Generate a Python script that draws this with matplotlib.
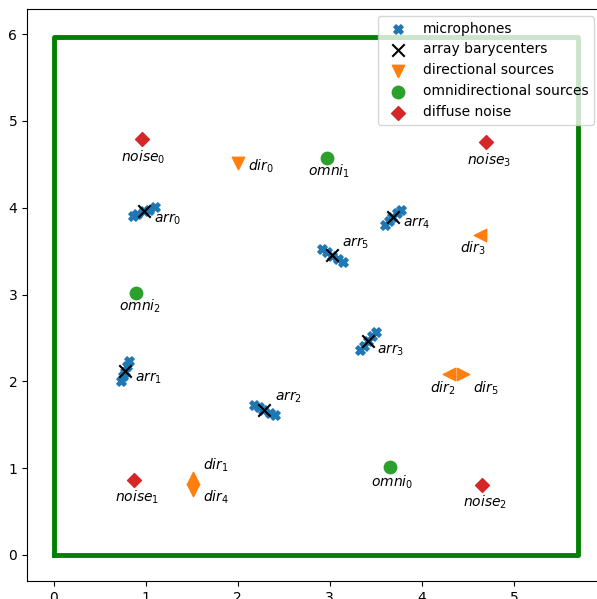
import matplotlib
matplotlib.use("Agg")
import matplotlib.pyplot as plt
import numpy as np

# Room outline (width x height, metres)
room_w, room_h = 5.7, 5.97

# Microphone positions of each linear array
mics = [
    [(0.86, 3.91), (0.91, 3.93), (0.98, 3.96), (1.04, 3.98), (1.10, 4.01)],
    [(0.735, 2.00), (0.755, 2.06), (0.775, 2.11), (0.80, 2.18), (0.82, 2.24)],
    [(2.18, 1.73), (2.23, 1.70), (2.28, 1.67), (2.35, 1.64), (2.41, 1.61)],
    [(3.33, 2.36), (3.37, 2.41), (3.42, 2.47), (3.46, 2.52), (3.50, 2.57)],
    [(3.60, 3.80), (3.64, 3.85), (3.68, 3.89), (3.73, 3.94), (3.77, 3.98)],
    [(2.92, 3.53), (2.97, 3.49), (3.03, 3.45), (3.09, 3.41), (3.14, 3.38)],
]

# Directional sources: position and marker showing orientation
dir_x = [2.00, 1.518, 4.30, 4.63, 1.518, 4.445]
dir_y = [4.52, 0.887, 2.085, 3.687, 0.749, 2.085]
dir_marker = ["v", "^", "<", "<", "v", ">"]

# Omnidirectional sources
omni_x = [3.65, 2.966, 0.898]
omni_y = [1.01, 4.57, 3.02]

# Diffuse noise sources
noise_x = [0.963, 0.876, 4.65, 4.70]
noise_y = [4.79, 0.864, 0.806, 4.76]

# label offsets in pixels (dx, dy) relative to the mark
arr_off = [(10, -7.5), (10, -7.5), (11, 13), (8.5, -9), (10, -6), (10, 12)]
dir_off = [(10, -4, "left"), (10, 13, "left"), (6, -14, "right"),
           (-7, -13, "center"), (10, -7, "left"), (10, -14, "left")]
omni_off = [(3, -15), (2, -13), (4, -13)]
noise_off = [(1, -18), (3, -17), (3, -17), (3, -18)]

PX = 72 / 100  # pixels -> points

fig = plt.figure(figsize=(5.97, 5.99), dpi=100)
ax = fig.add_axes([27 / 597, 1 - 581 / 599, (605 - 27) / 597, (581 - 9) / 599])

# room walls
ax.plot([0, room_w, room_w, 0, 0], [0, 0, room_h, room_h, 0],
        color="green", lw=3.5, zorder=1)

# microphones and barycenters
for i, arr in enumerate(mics):
    a = np.array(arr)
    ax.scatter(a[:, 0], a[:, 1], marker="X", s=45, color="tab:blue",
               label="microphones" if i == 0 else None, zorder=2)
for i, arr in enumerate(mics):
    c = np.array(arr).mean(axis=0)
    ax.scatter(c[0], c[1], marker="x", s=80, color="black",
               label="array barycenters" if i == 0 else None, zorder=3)
    dx, dy = arr_off[i]
    ax.annotate(f"$arr_{i}$", (c[0], c[1]), xytext=(dx * PX, dy * PX),
                textcoords="offset points", ha="left", va="center", fontsize=10)

for i in range(len(dir_x)):
    ax.scatter(dir_x[i], dir_y[i], marker=dir_marker[i], s=80,
               color="tab:orange",
               label="directional sources" if i == 0 else None, zorder=2)
    dx, dy, ha = dir_off[i]
    ax.annotate(f"$dir_{i}$", (dir_x[i], dir_y[i]), xytext=(dx * PX, dy * PX),
                textcoords="offset points", ha=ha, va="center", fontsize=10)

ax.scatter(omni_x, omni_y, marker="o", s=80, color="tab:green",
           label="omnidirectional sources", zorder=2)
for i in range(len(omni_x)):
    dx, dy = omni_off[i]
    ax.annotate(f"$omni_{i}$", (omni_x[i], omni_y[i]), xytext=(dx * PX, dy * PX),
                textcoords="offset points", ha="center", va="center", fontsize=10)

ax.scatter(noise_x, noise_y, marker="D", s=50, color="tab:red",
           label="diffuse noise", zorder=2)
for i in range(len(noise_x)):
    dx, dy = noise_off[i]
    ax.annotate(f"$noise_{i}$", (noise_x[i], noise_y[i]), xytext=(dx * PX, dy * PX),
                textcoords="offset points", ha="center", va="center", fontsize=10)

ax.set_xlim(-0.288, 5.99)
ax.set_ylim(-0.30, 6.29)
ax.set_xticks(range(0, 6))
ax.set_yticks(range(0, 7))
ax.legend(loc="upper right", bbox_to_anchor=(0.993, 1.0))

fig.savefig("out.png", dpi=100)
